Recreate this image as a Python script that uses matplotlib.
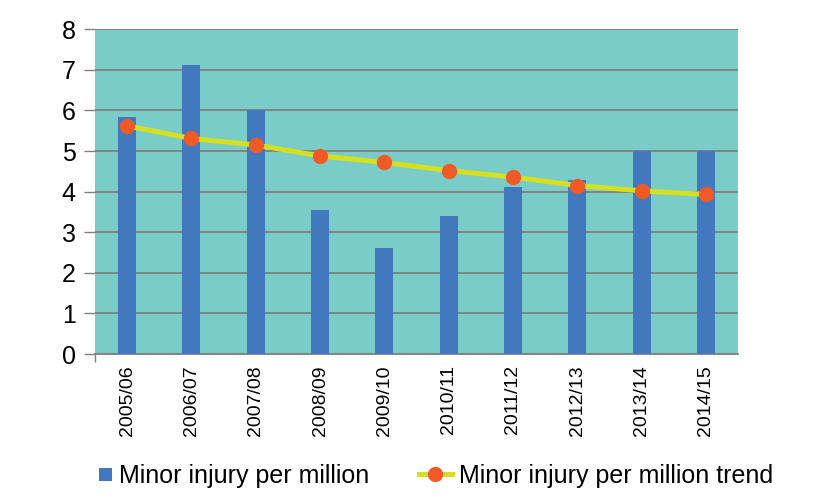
import matplotlib
matplotlib.use("Agg")
import matplotlib.pyplot as plt
import numpy as np
from matplotlib.patches import Rectangle
from matplotlib.legend_handler import HandlerPatch

plt.rcParams['font.family'] = ['Liberation Sans', 'DejaVu Sans']

years = ["2005/06", "2006/07", "2007/08", "2008/09", "2009/10",
         "2010/11", "2011/12", "2012/13", "2013/14", "2014/15"]
minor_injury = [5.85, 7.13, 6.0, 3.55, 2.61, 3.40, 4.12, 4.29, 5.0, 5.0]
trend = [5.62, 5.31, 5.15, 4.88, 4.72, 4.52, 4.36, 4.15, 4.02, 3.93]

BAR_C = '#4178BE'
fig = plt.figure(figsize=(8.2, 5.0), dpi=100)
ax = fig.add_axes([95/820, 1-354/500, (738-95)/820, (354-29.3)/500])
ax.set_facecolor('#7ACCC8')

x = np.arange(len(years))
bars = ax.bar(x, minor_injury, width=0.28, color=BAR_C, zorder=3,
              label='Minor injury per million')
line, = ax.plot(x, trend, color='#D4E021', linewidth=3.6, marker='o',
                markersize=10, markerfacecolor='#F15A24', markeredgecolor='#F15A24',
                zorder=4, label='Minor injury per million trend')

ax.set_xlim(-0.5, len(years) - 0.5)
ax.set_ylim(0, 8)
ax.set_yticks(range(0, 9))
ax.yaxis.grid(True, color='#7F7F7F', linewidth=1.3, zorder=1)
ax.set_axisbelow(True)
ax.tick_params(axis='y', labelsize=18, length=8, color='#808080', width=1, pad=6)
ax.set_xticks(x)
ax.set_xticklabels(years, rotation=90, fontsize=14)
ax.tick_params(axis='x', length=0, pad=8)
ax.set_xticks([-0.5], minor=True)
ax.tick_params(axis='x', which='minor', length=6, color='#808080', width=1)
for s in ['top', 'right', 'left']:
    ax.spines[s].set_visible(False)
ax.spines['bottom'].set_color('#808080')
ax.spines['bottom'].set_linewidth(1.3)


def make_square(legend, orig_handle, xdescent, ydescent, width, height, fontsize):
    s = 9.4
    return Rectangle((width - s - xdescent, height / 2 - s / 2 - ydescent), s, s)


sq = Rectangle((0, 0), 1, 1, facecolor=BAR_C, edgecolor='none')
fig.legend([sq, line], ['Minor injury per million', 'Minor injury per million trend'],
           handler_map={Rectangle: HandlerPatch(patch_func=make_square)},
           loc='center', bbox_to_anchor=(426/820, 1-476/500), ncol=2,
           frameon=False, fontsize=18, handlelength=1.3, handletextpad=0.28,
           columnspacing=2.0)

fig.savefig('out.png', dpi=100)
